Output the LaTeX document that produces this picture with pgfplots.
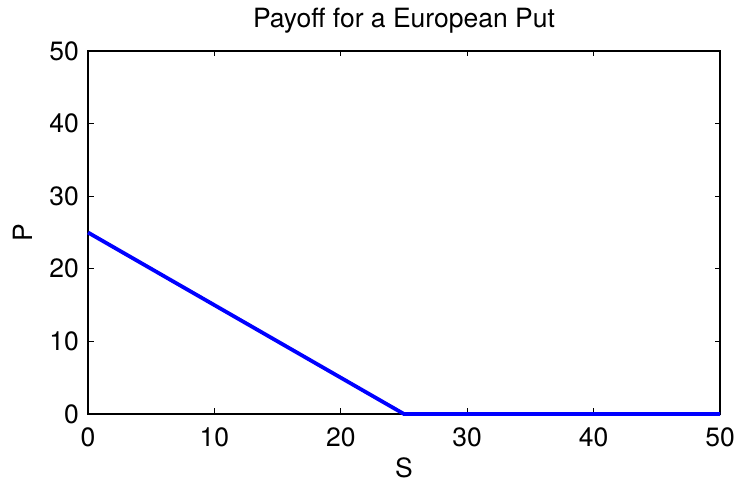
\documentclass[border=0pt]{standalone}
\usepackage{fontspec}
\setmainfont{TeX Gyre Heros}
\usepackage{pgfplots}
\pgfplotsset{compat=1.18}
\newcommand{\lblfont}{\fontsize{26.5bp}{32bp}\selectfont}
\begin{document}
\begin{tikzpicture}
\path[use as bounding box] (0,0) rectangle (737bp,483bp);
\begin{axis}[
  at={(88bp,69bp)}, anchor=south west,
  scale only axis, width=632bp, height=363bp,
  xmin=0, xmax=50, ymin=0, ymax=50,
  xtick={0,10,...,50}, ytick={0,10,...,50},
  tick align=inside, major tick length=5.5bp,
  axis line style={line width=1.1bp}, every tick/.style={line width=1bp, black},
  /pgf/number format/assume math mode=true,
  tick label style={font=\lblfont, inner sep=0pt},
  xticklabel style={yshift=-14bp},
  yticklabel style={xshift=-9bp},
  clip=false,
]
% put payoff max(K - S, 0) with strike K = 25
\addplot[blue, line width=3.8bp] coordinates {(0,25) (25,0) (50,0)};
\end{axis}
\node[anchor=base, font=\lblfont] at (404bp,455bp) {Payoff for a European Put};
\node[anchor=base, font=\lblfont] at (404bp,6bp) {S};
\node[anchor=base, rotate=90, font=\lblfont] at (32bp,250bp) {P};
\end{tikzpicture}
\end{document}
